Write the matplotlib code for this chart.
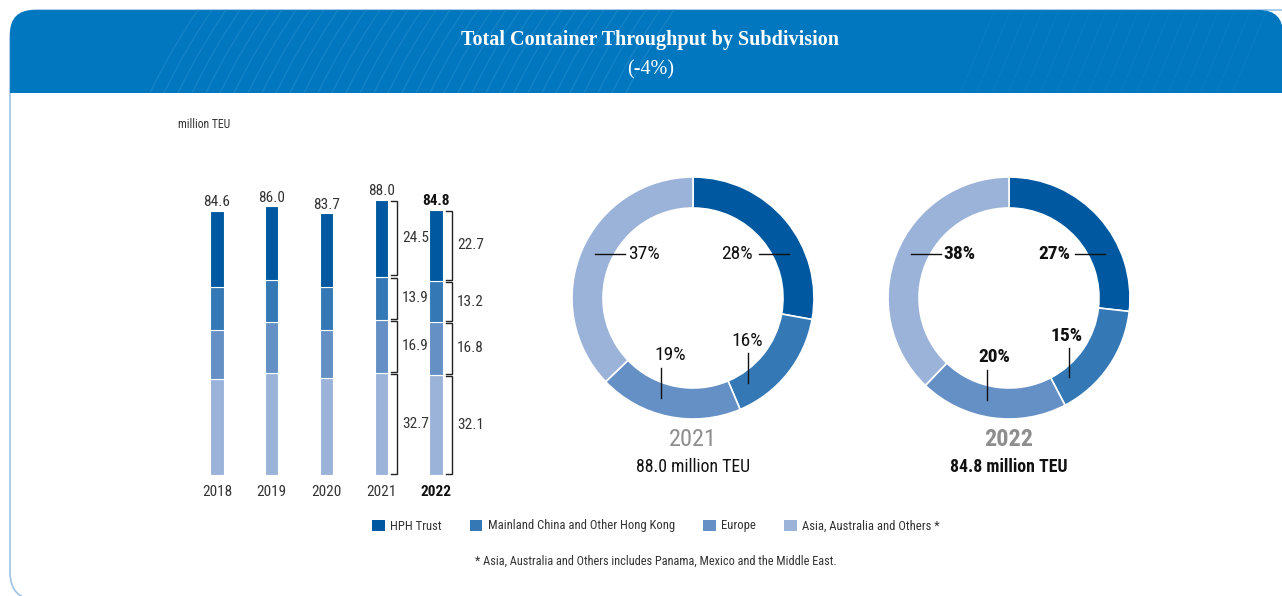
import numpy as np
import matplotlib
matplotlib.use('Agg')
import matplotlib.pyplot as plt
from matplotlib import font_manager as fm
from matplotlib.patches import FancyBboxPatch, Rectangle, Patch

# Data (million TEU)
years = ['2018', '2019', '2020', '2021', '2022']
totals = [84.6, 86.0, 83.7, 88.0, 84.8]
hph = [24.3, 23.7, 23.6, 24.5, 22.7]
mainland = [13.9, 13.4, 13.7, 13.9, 13.2]
europe = [15.8, 16.4, 15.4, 16.9, 16.8]
asia = [30.6, 32.5, 31.0, 32.7, 32.1]

segments = ['HPH Trust', 'Mainland China and Other Hong Kong', 'Europe',
            'Asia, Australia and Others *']
colors = ['#0059A0', '#3479B6', '#6590C5', '#9CB3D9']

pct_2021 = [28, 16, 19, 37]
pct_2022 = [27, 15, 20, 38]

TXT = '#333333'


# pick a condensed sans if one is installed
def pick_font():
    entries = fm.fontManager.ttflist
    names = {e.name for e in entries}
    for n in ['Roboto Condensed', 'Liberation Sans Narrow', 'Open Sans Condensed',
              'Noto Sans Condensed', 'DejaVu Sans Condensed', 'Arial Narrow']:
        if n in names:
            return n, 'normal', 1.0
    for n in ['Noto Sans', 'Open Sans', 'DejaVu Sans', 'Roboto']:
        for e in entries:
            if e.name == n and str(e.stretch) in ('condensed', 'semi-condensed',
                                                  'extra-condensed', '75', '87'):
                return n, 'condensed', 1.0
    return 'Liberation Sans', 'normal', 0.9


FONT, STRETCH, SC = pick_font()
plt.rcParams['font.family'] = [FONT, 'DejaVu Sans']
plt.rcParams['font.stretch'] = STRETCH

W, H = 1282, 596
fig = plt.figure(figsize=(W / 100, H / 100), dpi=100)


def px_axes(left, top, width, height):
    # axes placed with pixel coords measured from the top-left corner
    return fig.add_axes([left / W, 1 - (top + height) / H, width / W, height / H])


# background / card
bg = px_axes(0, 0, W, H)
bg.set_xlim(0, W)
bg.set_ylim(H, 0)
bg.axis('off')

card = FancyBboxPatch((10, 10), 1300, 590, boxstyle='round,pad=0,rounding_size=28',
                      facecolor='white', edgecolor='#9DC3E6', linewidth=1.2)
bg.add_patch(card)
header = FancyBboxPatch((10, 10), 1273, 120, boxstyle='round,pad=0,rounding_size=24',
                        facecolor='#0077BF', edgecolor='none')
bg.add_patch(header)
clip = Rectangle((0, 0), W, 93, transform=bg.transData)
header.set_clip_path(clip)

# faint stripes in the header
t = np.linspace(0, 1, 20)
for x0 in np.arange(150, 640, 14):
    ln, = bg.plot(x0 + 40 * t + 8 * t ** 2, 93 - 83 * t, color='#3A9AD6', lw=1.0,
                  alpha=0.35)
    ln.set_clip_path(clip)
for x0 in np.arange(960, 1240, 16):
    ln, = bg.plot(x0 + 35 * t, 93 - 83 * t, color='#2E8FD0', lw=1.0, alpha=0.18)
    ln.set_clip_path(clip)

bg.text(650, 40, 'Total Container Throughput by Subdivision', color='white',
        family='Liberation Serif', fontweight='bold', fontsize=14.5,
        ha='center', va='center')
bg.text(651, 70, '(-4%)', color='white', family='Liberation Serif',
        fontsize=14.5, ha='center', va='center')

bg.text(178, 124, 'million TEU', color=TXT, fontsize=8.5 * SC, ha='left', va='center')

# stacked bars
ax = px_axes(189.6, 194, 273.8, 281)
ax.set_xlim(-0.5, 4.5)
ax.set_ylim(0, 89.9)
ax.axis('off')

x = np.arange(len(years))
stack = [asia, europe, mainland, hph]
stack_colors = colors[::-1]
bottom = np.zeros(len(years))
for vals, c in zip(stack, stack_colors):
    ax.bar(x, vals, bottom=bottom, width=0.245, color=c, edgecolor='white',
           linewidth=0.8)
    bottom += np.array(vals)

for i, (yr, tot) in enumerate(zip(years, totals)):
    bold = 'bold' if yr == '2022' else 'normal'
    col = '#111111' if bold == 'bold' else TXT
    ax.text(i, tot + 1.5, f'{tot:.1f}', ha='center', va='baseline',
            fontsize=11 * SC, color=col, fontweight=bold)
    ax.text(i, -5.4, yr, ha='center', va='center', fontsize=11 * SC,
            color=col, fontweight=bold)

# brackets for 2021 and 2022
for i in [3, 4]:
    vals = [asia[i], europe[i], mainland[i], hph[i]]
    lo = 0.0
    x0, x1 = i + 0.18, i + 0.292
    for v in vals:
        hi = lo + v
        g = 0.35
        ax.plot([x0, x1, x1, x0], [lo + g, lo + g, hi - g, hi - g], color='#222222',
                lw=1.0, solid_joinstyle='miter', clip_on=False)
        ax.text(x1 + 0.09, (lo + hi) / 2, f'{v:.1f}', ha='left', va='center',
                fontsize=11 * SC, color=TXT, clip_on=False)
        lo = hi


# donuts
def donut(cx, cy, vals, pcts, year, total, bold, label_pos):
    dax = px_axes(cx - 160, cy - 160, 320, 320)
    dax.pie(vals, colors=colors, startangle=90, counterclock=False, radius=121,
            wedgeprops=dict(width=31, edgecolor='white', linewidth=1.2))
    dax.set_xlim(-160, 160)
    dax.set_ylim(-160, 160)
    dax.set_aspect('equal')
    dax.axis('off')
    fw = 'bold' if bold else 'normal'
    for p, (line, tpos, ha, va) in zip(pcts, label_pos):
        dax.plot(line[0], line[1], color='#111111', lw=1.0, clip_on=False)
        dax.text(tpos[0], tpos[1], f'{p}%', ha=ha, va=va, fontsize=14 * SC,
                 color='#111111', fontweight=fw, clip_on=False)
    bg.text(cx, 440, year, ha='center', va='center', fontsize=17.5 * SC,
            color='#8E8E8E', fontweight=fw)
    bg.text(cx, 467, f'{total:.1f} million TEU', ha='center', va='center',
            fontsize=12.8 * SC, color='#111111', fontweight=fw)


pos_2021 = [
    (([66, 96], [44, 44]), (60, 44), 'right', 'center'),
    (([54.7, 54.7], [-55, -85]), (54, -52), 'center', 'bottom'),
    (([-32.3, -32.3], [-70, -100]), (-23, -66), 'center', 'bottom'),
    (([-98, -68], [44, 44]), (-65, 44), 'left', 'center'),
]
pos_2022 = [
    (([66, 96], [44, 44]), (61, 44), 'right', 'center'),
    (([60, 60], [-50, -79]), (58, -47), 'center', 'bottom'),
    (([-21.7, -21.7], [-72, -102]), (-15, -68), 'center', 'bottom'),
    (([-98, -68], [44, 44]), (-66, 44), 'left', 'center'),
]

vals21 = [hph[3], mainland[3], europe[3], asia[3]]
vals22 = [hph[4], mainland[4], europe[4], asia[4]]
donut(693, 298, vals21, pct_2021, years[3], totals[3], False, pos_2021)
donut(1009, 298, vals22, pct_2022, years[4], totals[4], True, pos_2022)

# legend
handles = [Patch(facecolor=c, edgecolor='none', label=s) for c, s in zip(colors, segments)]
fig.legend(handles=handles, loc='center', bbox_to_anchor=(656 / W, 1 - 526 / H),
           ncol=4, frameon=False, fontsize=9.1 * SC, handlelength=1.0,
           handleheight=1.0, handletextpad=0.45, columnspacing=2.2, labelcolor=TXT)

bg.text(656, 561, '* Asia, Australia and Others includes Panama, Mexico and the Middle East.',
        ha='center', va='center', fontsize=8.8 * SC, color=TXT)

fig.savefig('out.png', dpi=100)
